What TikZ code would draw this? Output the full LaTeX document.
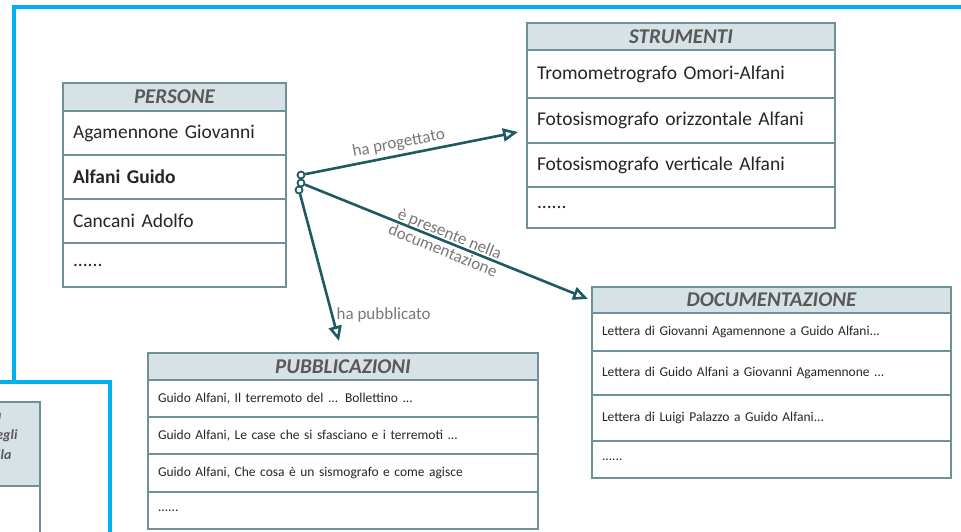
\documentclass[tikz,border=0pt]{standalone}
\usepackage{fontspec}
\setmainfont{Carlito}
\usepackage{tikz}
\usetikzlibrary{positioning, arrows.meta}

\definecolor{framebl}{RGB}{0,176,240}
\definecolor{tabline}{RGB}{110,145,152}
\definecolor{hdrfill}{RGB}{214,226,229}
\definecolor{hdrtext}{RGB}{89,89,89}
\definecolor{reltxt}{RGB}{120,120,120}
\definecolor{relline}{RGB}{31,90,100}

\tikzset{
  frame/.style={draw=framebl, line width=4pt},
  tab/.style={draw=tabline, line width=1.2pt, anchor=north west, inner sep=0pt, outer sep=0pt},
  hdr/.style={tab, fill=hdrfill, text=hdrtext, font=\fontsize{21}{24}\selectfont\bfseries\itshape},
  cell/.style={tab, fill=white, inner xsep=10pt, align=left, text=black!85},
  big/.style={font=\fontsize{19.5}{22}\selectfont},
  small/.style={font=\fontsize{13.5}{16}\selectfont},
  rel/.style={draw=relline, line width=2.6pt, -{Triangle[open, length=15pt, width=13pt]}},
  knob/.style={circle, draw=relline, line width=1.8pt, fill=white, inner sep=0pt, minimum size=7pt},
  lbl/.style={text=reltxt, font=\fontsize{17}{18}\selectfont}
}

\begin{document}
\begin{tikzpicture}[x=1pt, y=-1pt]
    \useasboundingbox (0,0) rectangle (961,531);

    % cornici
    \draw[frame] (961,7) -- (14,7) -- (14,382);
    \fill[white] (0,382) rectangle (110,531);
    \draw[frame] (-5,382) -- (110,382) -- (110,536);

    % tabella tagliata a sinistra
    \node[hdr, minimum width=60pt, minimum height=84pt] (resto) at (-20,402) {};
    \node[cell, text width=40pt, minimum height=60pt, below right=0pt and 0pt of resto.south west] (resto1) {};
    \node[anchor=east, text=hdrtext, font=\fontsize{14}{16}\selectfont\bfseries\itshape] (r1) at (5,416) {n};
    \node[anchor=east, text=hdrtext, font=\fontsize{14}{16}\selectfont\bfseries\itshape] (r2) at (21,436) {egli};
    \node[anchor=east, text=hdrtext, font=\fontsize{14}{16}\selectfont\bfseries\itshape] (r3) at (15,455) {lla};

    % PERSONE
    \node[hdr, minimum width=223pt, minimum height=28pt] (pers) at (63,83) {PERSONE};
    \node[cell, big, text width=203pt, minimum height=44pt, below right=0pt and 0pt of pers.south west] (pers1) {Agamennone Giovanni};
    \node[cell, big, text width=203pt, minimum height=44pt, below right=0pt and 0pt of pers1.south west] (pers2) {\textbf{Alfani Guido}};
    \node[cell, big, text width=203pt, minimum height=44pt, below right=0pt and 0pt of pers2.south west] (pers3) {Cancani Adolfo};
    \node[cell, big, text width=203pt, minimum height=44pt, below right=0pt and 0pt of pers3.south west] (pers4) {......};

    % STRUMENTI
    \node[hdr, minimum width=308pt, minimum height=27pt] (strum) at (527,23) {STRUMENTI};
    \node[cell, big, text width=288pt, minimum height=48pt, below right=0pt and 0pt of strum.south west] (strum1) {Tromometrografo Omori-Alfani};
    \node[cell, big, text width=288pt, minimum height=45pt, below right=0pt and 0pt of strum1.south west] (strum2) {Fotosismografo orizzontale Alfani};
    \node[cell, big, text width=288pt, minimum height=44pt, below right=0pt and 0pt of strum2.south west] (strum3) {Fotosismografo verticale Alfani};
    \node[cell, big, text width=288pt, minimum height=41pt, below right=0pt and 0pt of strum3.south west] (strum4) {......};

    % DOCUMENTAZIONE
    \node[hdr, minimum width=359pt, minimum height=26pt] (doc) at (592,287) {DOCUMENTAZIONE};
    \node[cell, small, text width=339pt, minimum height=38pt, below right=0pt and 0pt of doc.south west] (doc1) {Lettera di Giovanni Agamennone a Guido Alfani...};
    \node[cell, small, text width=339pt, minimum height=44pt, below right=0pt and 0pt of doc1.south west] (doc2) {Lettera di Guido Alfani a Giovanni Agamennone ...};
    \node[cell, small, text width=339pt, minimum height=46pt, below right=0pt and 0pt of doc2.south west] (doc3) {Lettera di Luigi Palazzo a Guido Alfani...};
    \node[cell, small, text width=339pt, minimum height=37pt, below right=0pt and 0pt of doc3.south west] (doc4) {......};

    % PUBBLICAZIONI
    \node[hdr, minimum width=390pt, minimum height=27pt] (pubb) at (148,353) {PUBBLICAZIONI};
    \node[cell, small, text width=370pt, minimum height=37pt, below right=0pt and 0pt of pubb.south west] (pubb1) {Guido Alfani, Il terremoto del ... Bollettino ...};
    \node[cell, small, text width=370pt, minimum height=37pt, below right=0pt and 0pt of pubb1.south west] (pubb2) {Guido Alfani, Le case che si sfasciano e i terremoti ...};
    \node[cell, small, text width=370pt, minimum height=38pt, below right=0pt and 0pt of pubb2.south west] (pubb3) {Guido Alfani, Che cosa è un sismografo e come agisce};
    \node[cell, small, text width=370pt, minimum height=37pt, below right=0pt and 0pt of pubb3.south west] (pubb4) {......};

    % relazioni
    \node[knob] (c1) at (301,175) {};
    \node[knob] (c2) at (301,183) {};
    \node[knob] (c3) at (299,190) {};
    \coordinate (t1) at (518,132);
    \coordinate (t2) at (588,299);
    \coordinate (t3) at (339,341);

    \draw[rel] (c1) -- node[lbl, sloped, above, pos=0.45] (l1) {ha progettato} (t1);
    \draw[rel] (c2) -- node[lbl, sloped, align=center, pos=0.5] (l2) {è presente nella\\documentazione} (t2);
    \draw[rel] (c3) -- node[lbl, right, pos=0.82] (l3) {ha pubblicato} (t3);
\end{tikzpicture}
\end{document}
